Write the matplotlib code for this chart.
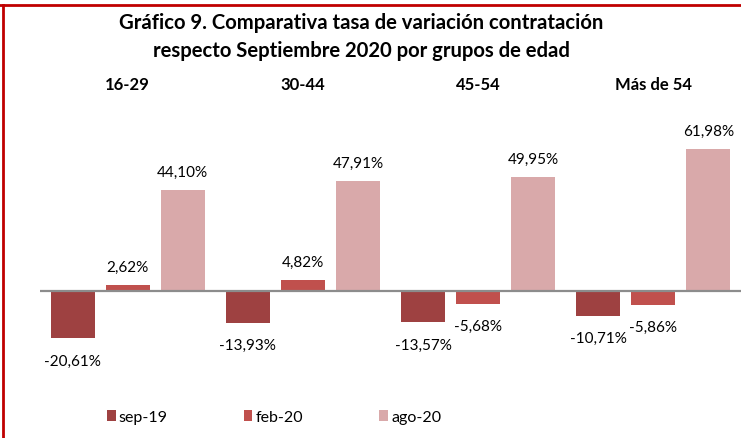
import numpy as np
import matplotlib.pyplot as plt
from matplotlib.lines import Line2D
from matplotlib.transforms import blended_transform_factory

plt.rcParams['font.family'] = ['Lato', 'DejaVu Sans']

# data
groups = ["16-29", "30-44", "45-54", "Más de 54"]
series = ["sep-19", "feb-20", "ago-20"]
sep19 = [-20.61, -13.93, -13.57, -10.71]
feb20 = [2.62, 4.82, -5.68, -5.86]
ago20 = [44.10, 47.91, 49.95, 61.98]
colors = ["#9e4141", "#c0504d", "#d9a9aa"]

fig = plt.figure(figsize=(7.41, 4.39), dpi=100)
ax = fig.add_axes([0.054, 0.126, 0.946, 0.626])

x = np.arange(len(groups))
step = 0.314
width = 0.25
for i, (vals, col, name) in enumerate(zip([sep19, feb20, ago20], colors, series)):
    pos = x + (i - 1) * step
    ax.bar(pos, vals, width, color=col, label=name)
    for px, v in zip(pos, vals):
        txt = f"{v:.2f}%".replace(".", ",")
        if v >= 0:
            ax.annotate(txt, (px, v), xytext=(0, 8), textcoords="offset points",
                        ha="center", va="bottom", fontsize=11)
        else:
            ax.annotate(txt, (px, v), xytext=(0, -11), textcoords="offset points",
                        ha="center", va="top", fontsize=11)

ax.axhline(0, color="#8c8c8c", lw=1.6)
ax.set_xlim(-0.5, 3.5)
ax.set_ylim(-40, 80)
ax.axis("off")

# group labels on top, x in data units, y fixed in the figure
blend = blended_transform_factory(ax.transData, fig.transFigure)
for xi, g in zip(x, groups):
    ax.text(xi, 1 - 85 / 439, g, transform=blend, ha="center", va="center",
            fontsize=12, fontweight="bold")

fig.text(361 / 741, 1 - 37 / 439,
         "Gráfico 9. Comparativa tasa de variación contratación\nrespecto Septiembre 2020 por grupos de edad",
         ha="center", va="center", fontsize=14.6, fontweight="bold", linespacing=1.55)

fig.legend(loc="center", bbox_to_anchor=(274 / 741, 1 - 418 / 439), ncol=3,
           frameon=False, fontsize=11.5, handlelength=0.55, handleheight=0.75,
           handletextpad=0.2, columnspacing=4.75)

# red frame (top and left)
fig.add_artist(Line2D([0, 1], [1 - 6 / 439, 1 - 6 / 439], color="#c00000", lw=2,
                      transform=fig.transFigure))
fig.add_artist(Line2D([3 / 741, 3 / 741], [0, 1 - 6 / 439], color="#c00000", lw=2,
                      transform=fig.transFigure))

fig.savefig("out.png", dpi=100)
